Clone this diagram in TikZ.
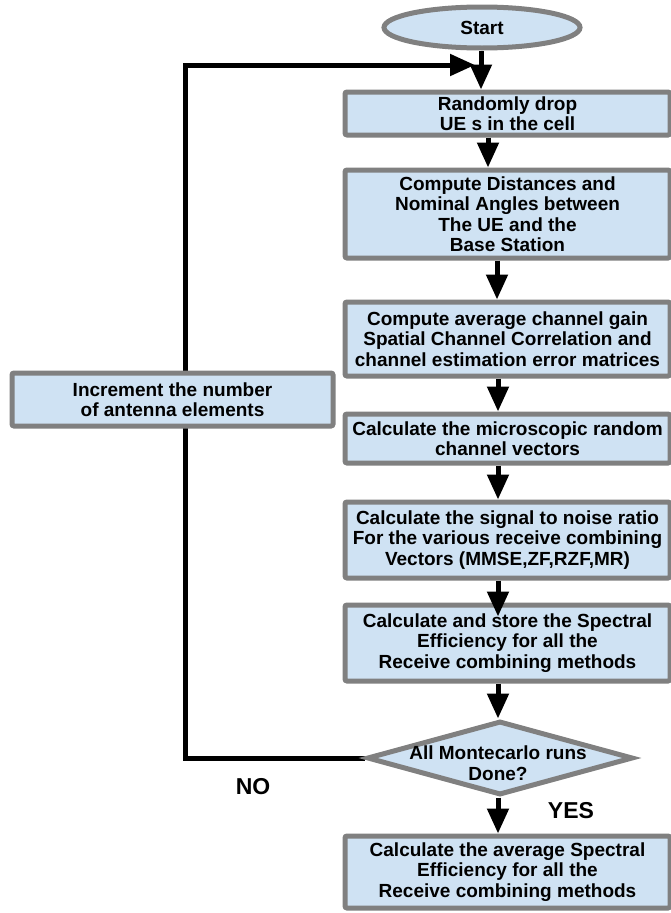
\documentclass[tikz,border=0pt]{standalone}
\usepackage{fontspec}
\setmainfont{Liberation Sans}
\usetikzlibrary{shapes.geometric,arrows.meta,backgrounds}
\definecolor{boxfill}{HTML}{CFE2F3}
\definecolor{boxdraw}{HTML}{808080}
\begin{document}
\begin{tikzpicture}[x=1pt,y=-1pt,
  txt/.style={font=\bfseries\fontsize{19}{20.5}\selectfont,align=center},
  box/.style={txt,draw=boxdraw,fill=boxfill,line width=5pt,rounded corners=2pt,minimum width=325pt,inner sep=0pt},
  oval/.style={txt,ellipse,draw=boxdraw,fill=boxfill,line width=5pt,minimum width=196pt,minimum height=41pt,inner sep=0pt},
  dia/.style={diamond,draw=boxdraw,fill=boxfill,line width=5pt,minimum width=266pt,minimum height=74pt,inner sep=0pt},
  arr/.style={line width=5pt,-{Triangle[length=25pt,width=21pt]}},
  lbl/.style={font=\bfseries\fontsize{23}{25}\selectfont}]
\useasboundingbox (0,0) rectangle (670,913);

\node[oval] (start) at (482,27.5) {Start};
\node[box,minimum height=43pt] (b1) at (507.5,113.5) {Randomly drop\\UE s in the cell};
\node[box,minimum height=88pt] (b2) at (507.5,214) {Compute Distances and\\Nominal Angles between\\The UE and the\\Base Station};
\node[box,minimum height=74pt] (b3) at (507.5,339) {Compute average channel gain\\Spatial Channel Correlation and\\channel estimation error matrices};
\node[box,minimum height=49pt] (b4) at (507.5,438.5) {Calculate the microscopic random\\channel vectors};
\node[box,minimum height=76pt] (b5) at (507.5,540) {Calculate the signal to noise ratio\\For the various receive combining\\Vectors (MMSE,ZF,RZF,MR)};
\node[box,minimum height=76pt] (b6) at (507.5,643) {Calculate and store the Spectral\\Efficiency for all the\\Receive combining methods};
\node[dia] (d) at (500,758) {};
\node[txt] (dt) at (498,763) {All Montecarlo runs\\Done?};
\node[box,minimum height=72pt] (fin) at (507.5,872) {Calculate the average Spectral\\Efficiency for all the\\Receive combining methods};
\node[box,minimum width=321pt,minimum height=53pt] (inc) at (172.5,399.5) {Increment the number\\of antenna elements};

\node[lbl] (no) at (253,787) {NO};
\node[lbl] (yes) at (571,811) {YES};

\coordinate (x0) at (481,0);
\coordinate (x1) at (488,0);
\coordinate (x2) at (497,0);
\coordinate (x3) at (498,0);
\coordinate (lx) at (185.5,0);
\coordinate (ltop) at (185.5,65);
\coordinate (lend) at (475,65);

\begin{scope}[on background layer]
\draw[arr] (d.west) -- (lx |- d.west) -- (ltop) -- (lend);
\end{scope}

\draw[arr] (x0 |- start.south) -- (x0 |- b1.north);
\draw[arr] (x1 |- b1.south) -- (x1 |- b2.north);
\draw[arr] (x2 |- b2.south) -- (x2 |- b3.north);
\draw[arr] (x3 |- b3.south) -- (x3 |- b4.north);
\draw[arr] (x3 |- b4.south) -- (x3 |- b5.north);
\draw[arr] (x3 |- b5.south) -- ([yshift=-14pt]x3 |- b6.north);
\draw[arr] (x3 |- b6.south) -- (x3 |- d.north);
\draw[arr] (x3 |- d.south) -- (x3 |- fin.north);
\end{tikzpicture}
\end{document}
